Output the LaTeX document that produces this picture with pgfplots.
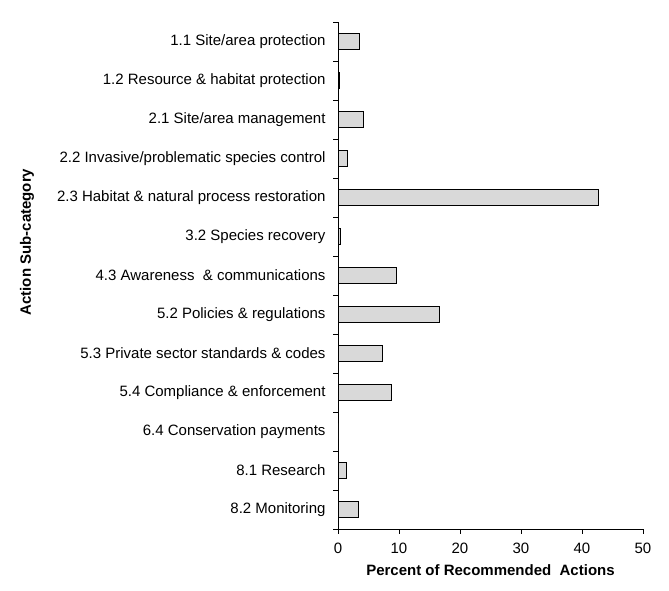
\documentclass[border=0pt]{standalone}
\usepackage{pgfplots}
\pgfplotsset{compat=1.18}
\usepackage{fontspec}
\setmainfont{Liberation Sans}
\definecolor{barfill}{HTML}{D9D9D9}
\begin{document}
\begin{tikzpicture}[font=\fontsize{15bp}{17bp}\selectfont]
\path[use as bounding box] (0,0) rectangle (669bp,591bp);
\begin{axis}[
  at={(338bp,62bp)}, anchor=south west,
  scale only axis, width=305bp, height=507bp,
  xbar, bar width=0.41,
  xmin=0, xmax=50, ymin=-0.5, ymax=12.5,
  axis x line*=bottom, axis y line*=left,
  axis line style={-, line width=0.8pt},
  xtick={0,10,...,50},
  ytick={0,...,12},
  yticklabels={8.2 Monitoring, 8.1 Research, 6.4 Conservation payments, 5.4 Compliance \& enforcement, 5.3 Private sector standards \& codes, 5.2 Policies \& regulations, 4.3 Awareness\ \ \& communications, 3.2 Species recovery, 2.3 Habitat \& natural process restoration, 2.2 Invasive/problematic species control, 2.1 Site/area management, 1.2 Resource \& habitat protection, 1.1 Site/area protection},
  minor ytick={-0.5,0.5,...,12.5},
  tick align=outside,
  major tick length=5bp, minor tick length=5bp,
  major y tick style={draw=none},
  minor y tick style={draw=black, line width=0.8pt},
  major x tick style={draw=black, line width=0.8pt},
  /pgf/number format/assume math mode=true,
  ticklabel style={font=\fontsize{15bp}{17bp}\selectfont},
  yticklabel style={anchor=east, xshift=-4bp},
  xticklabel style={yshift=-6bp},
  xlabel={\bfseries Percent of Recommended\ \ Actions},
  xlabel style={font=\fontsize{15bp}{17bp}\selectfont, yshift=-4bp},
  clip=false,
]
\addplot[fill=barfill, draw=black, line width=0.8pt] coordinates {
(3.3,0) (1.3,1) (0,2) (8.75,3) (7.3,4) (16.6,5) (9.6,6) (0.4,7) (42.7,8) (1.5,9) (4.2,10) (0.2,11) (3.5,12)
};
\end{axis}
\node[rotate=90, font=\fontsize{15bp}{17bp}\selectfont\bfseries] at (27bp,349bp) {Action Sub-category};
\end{tikzpicture}
\end{document}
